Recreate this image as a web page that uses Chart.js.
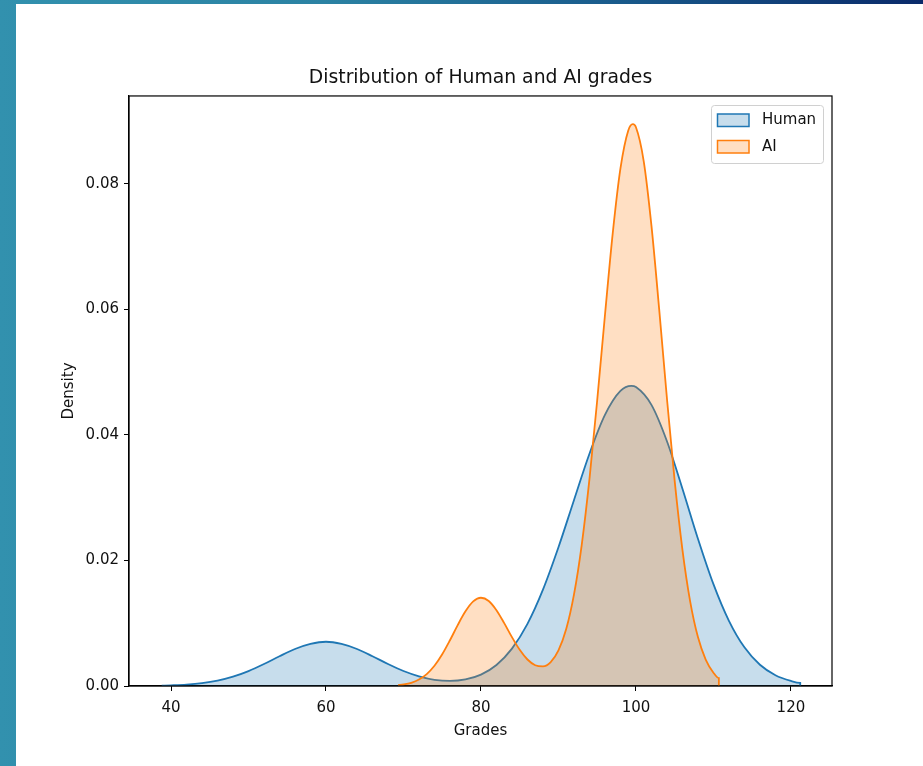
<!DOCTYPE html>
<html>
<head>
<meta charset="utf-8">
<title>Distribution of Human and AI grades</title>
<script src="https://cdn.jsdelivr.net/npm/chart.js@4.4.0/dist/chart.umd.min.js"></script>
<style>
    html, body { margin: 0; padding: 0; }
    body {
        width: 923px; height: 766px; overflow: hidden; position: relative;
        background: linear-gradient(to right, #3291ae 0%, #2b82a3 35%, #1a5d8d 65%, #0a2a6a 100%);
    }
    #panel { position: absolute; left: 16px; top: 4px; right: 0; bottom: 0; background: #fff; }
    #chart { position: absolute; left: 0; top: 0; }
</style>
</head>
<body>
<div id="panel"></div>
<canvas id="chart" width="923" height="766"></canvas>
<script>
// Datos (densidad KDE)
const seriesNames = ['Human', 'AI'];

const humanGrades = [38.8, 40, 42, 44, 46, 48, 50, 52, 54, 56, 58, 60, 62, 64, 66, 68, 70, 72, 74, 76, 78,
    80, 82, 84, 86, 88, 90, 92, 94, 96, 98, 99.4, 100, 102, 104, 106, 108, 110, 112, 114, 116, 118, 120, 121.2, 121.2];
const humanDensity = [0.00006, 0.00011, 0.00023, 0.00046, 0.00086, 0.00149, 0.00238, 0.0035, 0.00474, 0.00589,
    0.0067, 0.00705, 0.0067, 0.00589, 0.00474, 0.0035, 0.00239, 0.00154, 0.00099, 0.00081, 0.00105,
    0.00182, 0.00335, 0.00595, 0.0099, 0.01535, 0.0221, 0.0296, 0.037, 0.04318, 0.047, 0.0478, 0.04763,
    0.04479, 0.039, 0.03144, 0.02347, 0.01623, 0.01039, 0.00616, 0.00338, 0.00172, 0.00081, 0.0005, 0];

const aiGrades = [69.3, 70, 71, 72, 73, 74, 75, 76, 77, 78, 79, 80, 81, 82, 83, 84, 85, 86, 87, 88, 89,
    90, 91, 92, 93, 94, 95, 96, 97, 98, 99, 99.6, 100, 101, 102, 103, 104, 105, 106, 107, 108, 109, 110, 110.7, 110.7];
const aiDensity = [0.00013, 0.00024, 0.00051, 0.00103, 0.0019, 0.00322, 0.00505, 0.00729, 0.0097, 0.01189,
    0.01347, 0.01406, 0.01355, 0.01208, 0.01001, 0.00778, 0.00576, 0.00422, 0.00331, 0.00313, 0.00381,
    0.00567, 0.00907, 0.01456, 0.02246, 0.03295, 0.04552, 0.05907, 0.07207, 0.08245, 0.08847, 0.0895,
    0.08901, 0.08363, 0.07333, 0.06, 0.0458, 0.03263, 0.0217, 0.01345, 0.00779, 0.00421, 0.00212, 0.00126, 0];

const xTicks = [40, 60, 80, 100, 120];
const yTicks = [0, 0.02, 0.04, 0.06, 0.08];

const FONT = "'DejaVu Sans', sans-serif";
const TEXT = '#111';
const BLUE = '#1f77b4';
const ORANGE = '#ff7f0e';

function toPoints(xs, ys) {
    return xs.map((x, i) => ({ x: x, y: ys[i] }));
}

// Marco completo de los ejes (arriba y derecha incluidos)
const framePlugin = {
    id: 'frame',
    afterDatasetsDraw(chart) {
        const { ctx, chartArea: a } = chart;
        ctx.save();
        ctx.strokeStyle = '#000';
        ctx.lineWidth = 1.2;
        ctx.strokeRect(a.left, a.top, a.right - a.left, a.bottom - a.top);
        ctx.restore();
    }
};

// Leyenda dentro del área, arriba a la derecha
const legendPlugin = {
    id: 'boxLegend',
    afterDraw(chart) {
        const ctx = chart.ctx;
        const colors = [BLUE, ORANGE];
        const fills = ['rgba(31,119,180,0.25)', 'rgba(255,127,14,0.25)'];
        const x = 711, y = 105, w = 112, h = 58, r = 3;
        ctx.save();
        ctx.beginPath();
        ctx.roundRect(x + 0.5, y + 0.5, w, h, r);
        ctx.fillStyle = 'rgba(255,255,255,0.8)';
        ctx.fill();
        ctx.strokeStyle = '#d0d0d0';
        ctx.lineWidth = 1;
        ctx.stroke();
        seriesNames.forEach((name, i) => {
            const py = 114 + i * 26.5;
            ctx.fillStyle = '#fff';
            ctx.fillRect(717.5, py, 31.5, 12.5);
            ctx.fillStyle = fills[i];
            ctx.fillRect(717.5, py, 31.5, 12.5);
            ctx.strokeStyle = colors[i];
            ctx.lineWidth = 1.5;
            ctx.strokeRect(717.5, py, 31.5, 12.5);
            ctx.fillStyle = TEXT;
            ctx.font = '15px ' + FONT;
            ctx.textBaseline = 'middle';
            ctx.textAlign = 'left';
            ctx.fillText(name, 762, py + 6.5);
        });
        ctx.restore();
    }
};

const ctx = document.getElementById('chart').getContext('2d');
new Chart(ctx, {
    type: 'line',
    data: {
        datasets: [
            {
                label: seriesNames[0],
                data: toPoints(humanGrades, humanDensity),
                borderColor: BLUE,
                backgroundColor: 'rgba(31,119,180,0.25)',
                borderWidth: 1.8,
                fill: 'origin',
                cubicInterpolationMode: 'monotone',
                pointRadius: 0,
                order: 1
            },
            {
                label: seriesNames[1],
                data: toPoints(aiGrades, aiDensity),
                borderColor: ORANGE,
                backgroundColor: 'rgba(255,127,14,0.25)',
                borderWidth: 1.8,
                fill: 'origin',
                cubicInterpolationMode: 'monotone',
                pointRadius: 0,
                order: 0
            }
        ]
    },
    options: {
        responsive: false,
        animation: false,
        layout: { padding: { left: 0, right: 91, top: 0, bottom: 0 } },
        plugins: {
            legend: { display: false },
            tooltip: { enabled: false },
            title: {
                display: true,
                text: 'Distribution of Human and AI grades',
                fullSize: false,
                color: TEXT,
                font: { family: FONT, size: 18.8, weight: 'normal', lineHeight: 1.2 },
                padding: { top: 66.5, bottom: 6.9 }
            }
        },
        scales: {
            x: {
                type: 'linear',
                min: 34.58,
                max: 125.3,
                afterBuildTicks: s => { s.ticks = xTicks.map(v => ({ value: v })); },
                afterFit: s => { s.height = 80; },
                ticks: { color: TEXT, font: { family: FONT, size: 15 }, padding: 8, maxRotation: 0 },
                grid: { display: true, drawOnChartArea: false, drawTicks: true, tickLength: 5, color: '#000', lineWidth: 1 },
                border: { display: true, color: '#000', width: 1.2 },
                title: {
                    display: true, text: 'Grades', color: TEXT,
                    font: { family: FONT, size: 15, lineHeight: 1.2 },
                    padding: { top: 0, bottom: 26 }
                }
            },
            y: {
                min: 0,
                max: 0.094,
                afterBuildTicks: s => { s.ticks = yTicks.map(v => ({ value: v })); },
                afterFit: s => { s.width = 129; },
                ticks: {
                    color: TEXT, font: { family: FONT, size: 15 }, padding: 5,
                    callback: v => v.toFixed(2)
                },
                grid: { display: true, drawOnChartArea: false, drawTicks: true, tickLength: 5, color: '#000', lineWidth: 1 },
                border: { display: true, color: '#000', width: 1.2 },
                title: {
                    display: true, text: 'Density', color: TEXT,
                    font: { family: FONT, size: 15, lineHeight: 1.2 },
                    padding: { top: 60, bottom: 0 }
                }
            }
        }
    },
    plugins: [framePlugin, legendPlugin]
});
</script>
</body>
</html>
